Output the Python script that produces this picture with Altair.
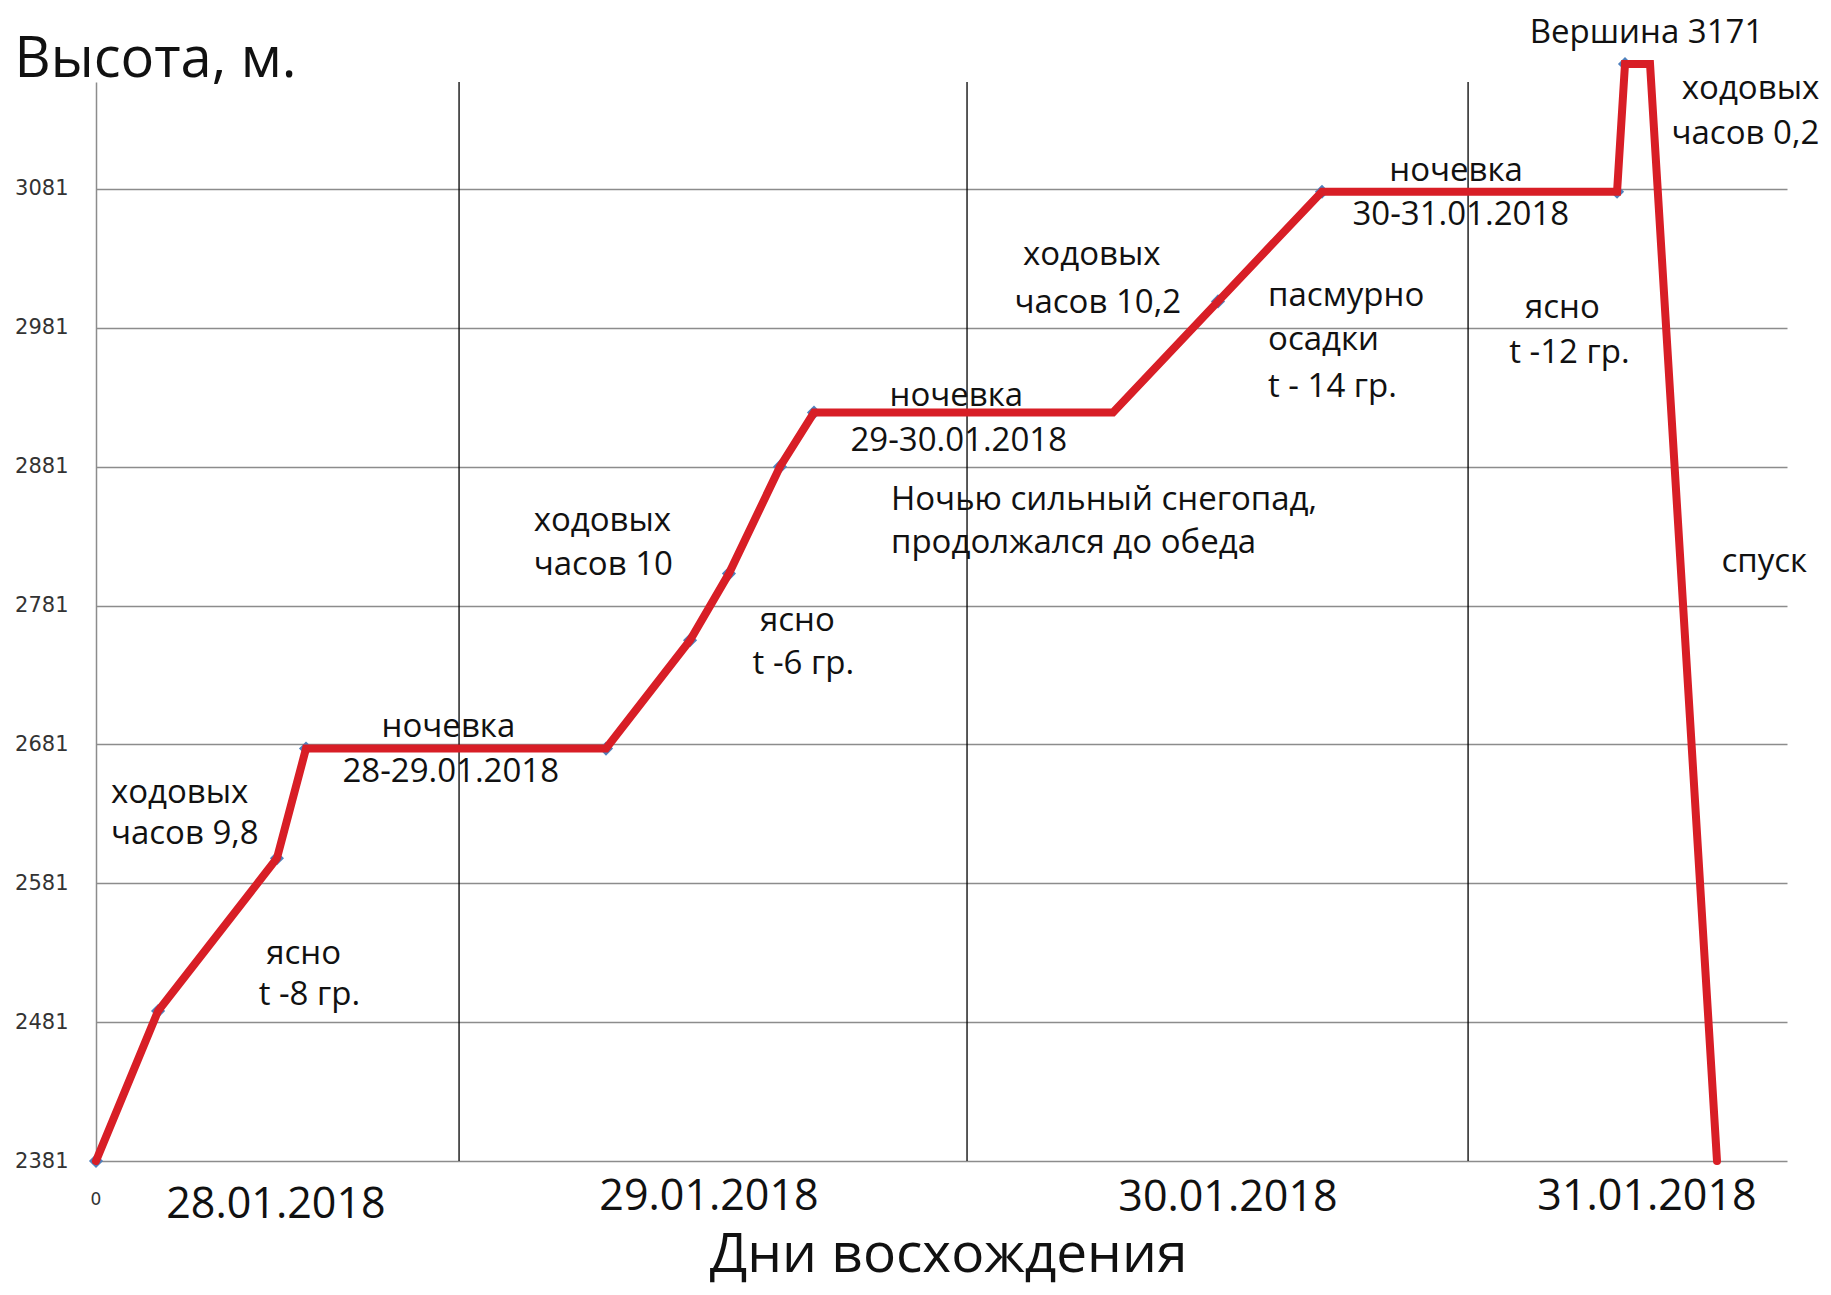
import altair as alt
import pandas as pd

# ---- data (x: arbitrary time units 0..100 across the ascent days, y: altitude, m) ----
line_x = [0, 3.67, 10.70, 12.42, 30.16, 35.13, 37.43, 40.45, 42.46, 60.14, 66.35, 72.50, 89.95, 90.42, 91.90, 95.86]
line_y = [2381, 2489, 2599, 2678, 2678, 2756, 2804, 2881, 2920, 2920, 3000, 3079, 3079, 3171, 3171, 2381]
has_marker = [1, 1, 1, 1, 1, 1, 1, 1, 1, 0, 1, 1, 1, 1, 0, 0]

day_sep_x = [21.47, 51.51, 81.14]
y_ticks = [2381, 2481, 2581, 2681, 2781, 2881, 2981, 3081]

date_text = ["28.01.2018", "29.01.2018", "30.01.2018", "31.01.2018"]
date_x = [10.64, 36.25, 66.94, 91.72]
date_y = [2340, 2346, 2345, 2346]

zero_text = ["0"]
zero_x = [0]
zero_y = [2349]

ann_text = ["ходовых", "часов 9,8", "ясно", "t -8 гр.", "ночевка", "28-29.01.2018",
            "ходовых", "часов 10", "ясно", "t -6 гр.", "ночевка", "29-30.01.2018",
            "Ночью сильный снегопад,", "продолжался до обеда", "ходовых", "часов 10,2",
            "пасмурно", "осадки", "t - 14 гр.", "ночевка", "30-31.01.2018",
            "ясно", "t -12 гр.", "Вершина 3171", "ходовых", "часов 0,2", "спуск"]
ann_x = [0.88, 0.88, 12.28, 12.62, 20.84, 20.98,
         25.88, 25.88, 41.48, 41.83, 50.88, 51.02,
         47.01, 47.01, 58.89, 59.24,
         69.31, 69.31, 69.31, 80.43, 80.71,
         86.72, 87.13, 91.69, 101.91, 101.91, 98.66]
ann_y = [2639, 2609, 2523, 2493, 2686, 2654,
         2835, 2803, 2763, 2732, 2925, 2892,
         2850, 2819, 3026, 2992,
         2997, 2965, 2931, 3087, 3055,
         2988, 2956, 3186, 3146, 3113, 2805]
ann_align = ["left", "left", "center", "center", "center", "center",
             "left", "left", "center", "center", "center", "center",
             "left", "left", "center", "center",
             "left", "left", "left", "center", "center",
             "center", "center", "center", "right", "right", "center"]

# ---- tables ----
df_line = pd.DataFrame({"i": range(len(line_x)), "x": line_x, "y": line_y, "m": has_marker})
df_sep = pd.DataFrame({"x": day_sep_x})
df_dates = pd.DataFrame({"x": date_x, "y": date_y, "t": date_text})
df_zero = pd.DataFrame({"x": zero_x, "y": zero_y, "t": zero_text})
df_ann = pd.DataFrame({"x": ann_x, "y": ann_y, "t": ann_text, "a": ann_align})

FONT = "Open Sans"

xscale = alt.Scale(domain=[0, 100], nice=False, zero=False)
yscale = alt.Scale(domain=[2381, 3158], nice=False, zero=False)

xaxis = alt.Axis(title="Дни восхождения", labels=False, ticks=False, domain=False, grid=False,
                 titleFont=FONT, titleFontSize=55, titleFontWeight="normal", titleColor="#111111",
                 titleX=852, titleY=110, titleAlign="center", titleBaseline="alphabetic")
yaxis = alt.Axis(title="Высота, м.", values=y_ticks, format="d", grid=True, gridColor="#8c8c8c", gridWidth=1.5,
                 ticks=False, domain=True, domainColor="#8c8c8c", domainWidth=1.5,
                 labelFont="DejaVu Sans", labelFontSize=21, labelColor="#333333", labelPadding=28,
                 titleFont=FONT, titleFontSize=56, titleFontWeight="normal", titleColor="#111111",
                 titleAngle=0, titleX=-82, titleY=-6, titleAlign="left", titleBaseline="alphabetic")


def X(f="x"):
    return alt.X(f + ":Q", scale=xscale, axis=xaxis)


def Y(f="y"):
    return alt.Y(f + ":Q", scale=yscale, axis=yaxis)


seps = alt.Chart(df_sep).mark_rule(color="#000000", strokeWidth=1.3).encode(x=X())

markers = alt.Chart(df_line).transform_filter("datum.m == 1").mark_point(
    shape="diamond", filled=True, size=200, color="#4f81bd", opacity=1
).encode(x=X(), y=Y())

line = alt.Chart(df_line).mark_line(
    color="#d81e26", strokeWidth=8, strokeJoin="miter", strokeCap="round"
).encode(x=X(), y=Y(), order=alt.Order("i:Q"))

dates = alt.Chart(df_dates).mark_text(
    font=FONT, fontSize=43, color="#111111", align="center", baseline="alphabetic"
).encode(x=X(), y=Y(), text="t:N")

zero = alt.Chart(df_zero).mark_text(
    font="DejaVu Sans", fontSize=17, color="#333333", align="center", baseline="alphabetic"
).encode(x=X(), y=Y(), text="t:N")


def ann_layer(al):
    return alt.Chart(df_ann).transform_filter(f"datum.a == '{al}'").mark_text(
        font=FONT, fontSize=33, color="#111111", align=al, baseline="alphabetic"
    ).encode(x=X(), y=Y(), text="t:N")


chart = alt.layer(
    seps, markers, line, dates, zero,
    ann_layer("left"), ann_layer("center"), ann_layer("right")
).properties(
    width=1691, height=1079,
    autosize=alt.AutoSizeParams(type="none"),
    padding={"left": 88, "top": 74, "right": 35, "bottom": 126},
    background="white",
).configure_view(stroke=None)

chart.save("out.html", embed_options={"renderer": "svg", "actions": False})
